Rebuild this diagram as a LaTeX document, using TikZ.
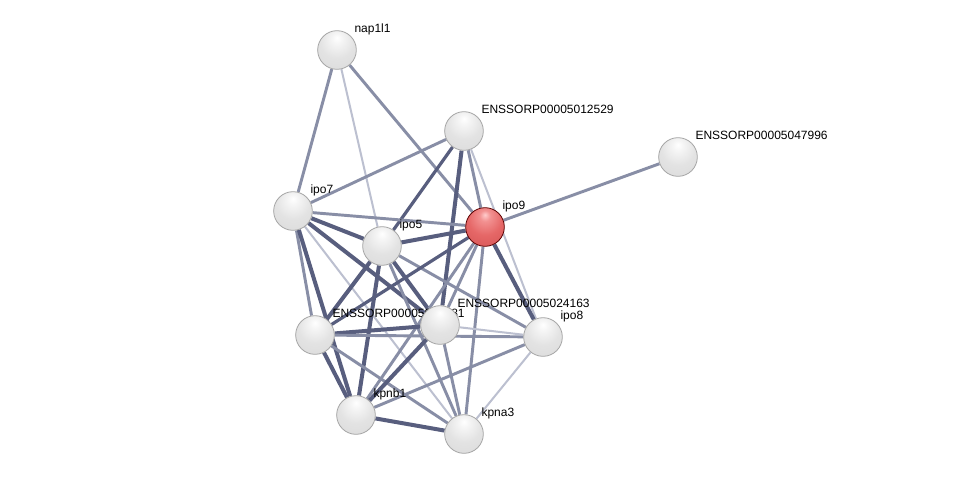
\documentclass[tikz,border=0pt]{standalone}
\usepackage{fontspec}
\setmainfont{Liberation Sans}
\usetikzlibrary{backgrounds}
\definecolor{edgedark}{RGB}{88,94,126}
\definecolor{edgemid}{RGB}{136,142,166}
\definecolor{edgelight}{RGB}{188,192,208}
\pgfdeclareradialshading{graysphere}{\pgfpoint{0bp}{16bp}}{color(0bp)=(white); color(7bp)=(white!92!gray); color(22bp)=(white!78!gray); color(40bp)=(white!72!gray); color(52bp)=(white!64!gray); color(62bp)=(white!52!gray); color(80bp)=(white!45!gray)}
\pgfdeclareradialshading{redsphere}{\pgfpoint{0bp}{16bp}}{color(0bp)=(red!20!white); color(7bp)=(red!40!white!95!black); color(22bp)=(red!55!white!90!black); color(40bp)=(red!60!white!84!black); color(52bp)=(red!62!white!75!black); color(62bp)=(red!70!black); color(80bp)=(red!50!black)}

\begin{document}
\begin{tikzpicture}[x=0.75pt, y=-0.75pt,
    prot/.style={circle, minimum size=29pt, inner sep=0pt, shading=graysphere, draw=gray!70, line width=0.6pt, label={[lbl]above right:#1}},
    query/.style={prot=#1, shading=redsphere, draw=red!35!black},
    lbl/.style={font=\fontsize{9}{10}\selectfont, inner sep=2.5pt, text depth=0pt},
    weak/.style={line width=1.5pt, edgelight},
    mid/.style={line width=2.2pt, edgemid},
    strong/.style={line width=3pt, edgedark}
]
  \useasboundingbox (0,0) rectangle (975,479);

  \node[prot=nap1l1] (nap1l1) at (337,50) {};
  \node[prot=ENSSORP00005012529] (ens12529) at (464,131) {};
  \node[prot=ENSSORP00005047996] (ens47996) at (678,157) {};
  \node[prot=ipo7] (ipo7) at (293,211) {};
  \node[query=ipo9] (ipo9) at (485,227) {};
  \node[prot=ipo5] (ipo5) at (382,246) {};
  \node[prot=ENSSORP00005013481] (ens13481) at (315,335) {};
  \node[prot=ENSSORP00005024163] (ens24163) at (440,325) {};
  \node[prot=ipo8] (ipo8) at (543,337) {};
  \node[prot=kpnb1] (kpnb1) at (356,415) {};
  \node[prot=kpna3] (kpna3) at (464,434) {};

  \begin{pgfonlayer}{background}
    \fill[white] (0,0) rectangle (975,479);
    \draw[mid] (nap1l1) -- (ipo7);
    \draw[weak] (nap1l1) -- (ipo5);
    \draw[mid] (nap1l1) -- (ipo9);
    \draw[mid] (ens12529) -- (ipo7);
    \draw[strong, line width=2.4pt] (ens12529) -- (ipo5);
    \draw[strong] (ens12529) -- (ens24163);
    \draw[mid] (ens12529) -- (ipo9);
    \draw[weak] (ens12529) -- (ipo8);
    \draw[mid] (ens47996) -- (ipo9);
    \draw[mid] (ipo7) -- (ipo9);
    \draw[strong] (ipo7) -- (ipo5);
    \draw[strong] (ipo7) -- (ens24163);
    \draw[mid] (ipo7) -- (ens13481);
    \draw[strong] (ipo7) -- (kpnb1);
    \draw[weak] (ipo7) -- (kpna3);
    \draw[strong] (ipo5) -- (ipo9);
    \draw[strong] (ipo5) -- (ens13481);
    \draw[strong] (ipo5) -- (kpnb1);
    \draw[strong] (ipo5) -- (ens24163);
    \draw[mid] (ipo5) -- (kpna3);
    \draw[mid] (ipo5) -- (ipo8);
    \draw[strong, line width=2.4pt] (ipo9) -- (ens13481);
    \draw[mid] (ipo9) -- (kpnb1);
    \draw[mid] (ipo9) -- (ens24163);
    \draw[mid] (ipo9) -- (kpna3);
    \draw[strong] (ipo9) -- (ipo8);
    \draw[strong] (ens13481) -- (ens24163);
    \draw[mid] (ens13481) -- (ipo8);
    \draw[strong] (ens13481) -- (kpnb1);
    \draw[mid] (ens13481) -- (kpna3);
    \draw[strong] (ens24163) -- (kpnb1);
    \draw[weak] (ens24163) -- (ipo8);
    \draw[mid] (ens24163) -- (kpna3);
    \draw[mid] (kpnb1) -- (ipo8);
    \draw[strong] (kpnb1) -- (kpna3);
    \draw[weak] (kpna3) -- (ipo8);
  \end{pgfonlayer}
\end{tikzpicture}
\end{document}
